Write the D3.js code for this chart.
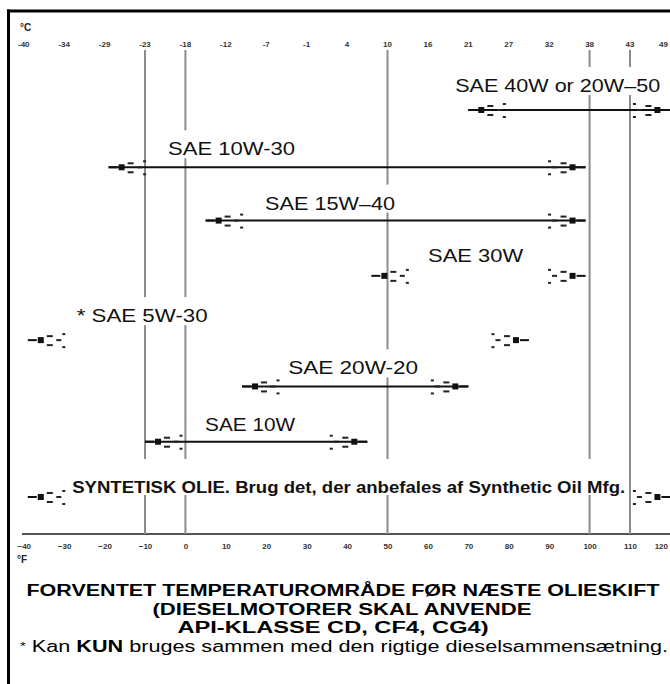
<!DOCTYPE html>
<html><head><meta charset="utf-8">
<script src="https://cdn.jsdelivr.net/npm/d3@7"></script>
<style>html,body{margin:0;padding:0;background:#fff}svg{display:block}</style>
</head><body>
<script>
// ---- data ----
const tempF = [-40,-30,-20,-10,0,10,20,30,40,50,60,70,80,90,100,110,120];
const tempC = ["-40","-34","-29","-23","-18","-12","-7","-1","4","10","16","21","27","32","38","43","49"];
const boundaryF = [-10, 0, 50, 100, 110];
const grades = ["SAE 40W or 20W–50","SAE 10W-30","SAE 15W–40","SAE 30W","* SAE 5W-30","SAE 20W-20","SAE 10W","SYNTETISK OLIE. Brug det, der anbefales af Synthetic Oil Mfg."];
const minF = [70, -19, 5, 46, -39, 14, -10, -39];
const maxF = [120, 99, 99, 99, 85, 70, 45, 120];
const lineShown = [true, true, true, false, false, true, true, false];
const titleLines = ["FORVENTET TEMPERATUROMRÅDE FØR NÆSTE OLIESKIFT","(DIESELMOTORER SKAL ANVENDE","API-KLASSE CD, CF4, CG4)"];

// ---- layout ----
const W = 670, H = 684;
const svg = d3.select("body").append("svg").attr("width", W).attr("height", H);
const x = d3.scaleLinear().domain([-10, 110]).range([145, 630]);
const y = d3.scalePoint().domain(grades).range([110, 497]);
const rowNudge = {"SAE 10W-30": 2, "* SAE 5W-30": 9};
const rowY = g => y(g) + (rowNudge[g] || 0);
const labelLayout = [
  {c: 92.1, dy: -18, w: 205},
  {c: 11.4, dy: -12, w: 127},
  {c: 35.8, dy: -11, w: 130},
  {c: 71.8, dy: -14, w: 95},
  {c: -10.7, dy: -18, w: 131},
  {c: 41.5, dy: -12, w: 130},
  {c: 16.0, dy: -11, w: 90},
  {c: 40.4, dy: -4, w: 553, bold: true, size: 16, padTop: 20}
];
const FONT = "'Liberation Sans', Arial, Helvetica, sans-serif";
const lastX = v => Math.min(x(v), W - 2);

// border
svg.append("line").attr("x1", 7).attr("x2", W).attr("y1", 11).attr("y2", 11).attr("stroke", "#000").attr("stroke-width", 3);
svg.append("line").attr("x1", 8.5).attr("x2", 8.5).attr("y1", 9.5).attr("y2", H).attr("stroke", "#000").attr("stroke-width", 3);

// unit labels
svg.append("text").attr("x", 20).attr("y", 31).attr("font-family", FONT).attr("font-size", 10).attr("font-weight", "bold").attr("fill", "#222").text("°C");
svg.append("text").attr("x", 17).attr("y", 563).attr("font-family", FONT).attr("font-size", 10).attr("font-weight", "bold").attr("fill", "#222").text("°F");

// top (°C) tick labels
const lastIdx = tempF.length - 1;
svg.append("g").selectAll("text").data(tempF).join("text")
  .attr("x", (d, i) => i === lastIdx ? lastX(d) : x(d)).attr("y", 47)
  .attr("text-anchor", (d, i) => i === lastIdx ? "end" : "middle")
  .attr("font-family", FONT).attr("font-size", 8).attr("font-weight", "bold").attr("fill", "#333")
  .text((d, i) => tempC[i]);

// bottom axis
const axisY = 534;
const axis = svg.append("g").attr("transform", `translate(0,${axisY})`)
  .call(d3.axisBottom(x).tickValues(tempF).tickSize(0).tickPadding(9).tickFormat(d3.format("d")));
axis.select(".domain").remove();
axis.selectAll("text").attr("font-family", FONT).attr("font-size", 8).attr("font-weight", "bold").attr("fill", "#333");
axis.selectAll(".tick").filter(d => d === tempF[lastIdx])
  .attr("transform", d => `translate(${lastX(d)},0)`)
  .select("text").attr("text-anchor", "end");
svg.append("line").attr("x1", 22).attr("x2", W).attr("y1", axisY).attr("y2", axisY).attr("stroke", "#555").attr("stroke-width", 2);

// boundary vertical lines
svg.append("g").selectAll("line").data(boundaryF).join("line")
  .attr("x1", d => x(d)).attr("x2", d => x(d)).attr("y1", 50).attr("y2", axisY)
  .attr("stroke", "#8c8c8c").attr("stroke-width", 2);

// label backgrounds + labels
const labelG = svg.append("g");
grades.forEach((g, i) => {
  const L = labelLayout[i];
  const t = labelG.append("text")
    .attr("x", x(L.c)).attr("y", rowY(g) + L.dy).attr("text-anchor", "middle")
    .attr("font-family", FONT).attr("font-size", L.size || 19)
    .attr("font-weight", L.bold ? "bold" : "normal").attr("fill", "#111")
    .attr("textLength", L.w).attr("lengthAdjust", "spacingAndGlyphs")
    .text(g);
  const bb = t.node().getBBox();
  const pt = L.padTop || 8;
  labelG.insert("rect", () => t.node())
    .attr("x", bb.x - 3).attr("y", bb.y - pt).attr("width", bb.width + 6).attr("height", bb.height + pt - 1)
    .attr("fill", "#fff");
});

// range lines and end markers
const rangeG = svg.append("g");
grades.forEach((g, i) => {
  const yy = rowY(g);
  const x0 = x(minF[i]), x1 = x(maxF[i]);
  if (lineShown[i]) {
    rangeG.append("line").attr("x1", x0).attr("x2", x1).attr("y1", yy).attr("y2", yy)
      .attr("stroke", "#111").attr("stroke-width", 2);
  }
  [[x0, 1], [x1, -1]].forEach(([tip, dir]) => {
    const m = rangeG.append("g");
    m.append("line").attr("x1", tip).attr("x2", tip + dir * 9).attr("y1", yy).attr("y2", yy)
      .attr("stroke", "#111").attr("stroke-width", 2);
    m.append("rect").attr("x", tip + dir * 13 - 3).attr("y", yy - 3).attr("width", 6).attr("height", 6).attr("fill", "#111");
    const dashes = [[22, -5, 6], [22, 4, 6], [31, -1, 5], [36, -7, 3], [36, 6, 3]];
    dashes.forEach(([off, dy, len]) => {
      m.append("rect").attr("x", dir > 0 ? tip + off - len / 2 : tip - off - len / 2)
        .attr("y", yy + dy).attr("width", len).attr("height", 2).attr("fill", "#222");
    });
  });
});

// title
const titleX = [343, 342, 333], titleY = [596, 614.5, 633], titleW = [633, 379, 311];
svg.append("g").selectAll("text").data(titleLines).join("text")
  .attr("x", (d, i) => titleX[i]).attr("y", (d, i) => titleY[i]).attr("text-anchor", "middle")
  .attr("font-family", FONT).attr("font-size", 16).attr("font-weight", "bold").attr("fill", "#000")
  .attr("textLength", (d, i) => titleW[i]).attr("lengthAdjust", "spacingAndGlyphs")
  .text(d => d);

// footnote
const fn = svg.append("text").attr("x", 20).attr("y", 651.5)
  .attr("font-family", FONT).attr("font-size", 16).attr("fill", "#000")
  .attr("textLength", 648).attr("lengthAdjust", "spacingAndGlyphs");
fn.append("tspan").attr("font-size", 11).attr("dy", -2).text("*");
fn.append("tspan").attr("dy", 2).text(" Kan ");
fn.append("tspan").attr("font-weight", "bold").text("KUN");
fn.append("tspan").text(" bruges sammen med den rigtige dieselsammensætning.");
</script>
</body></html>
